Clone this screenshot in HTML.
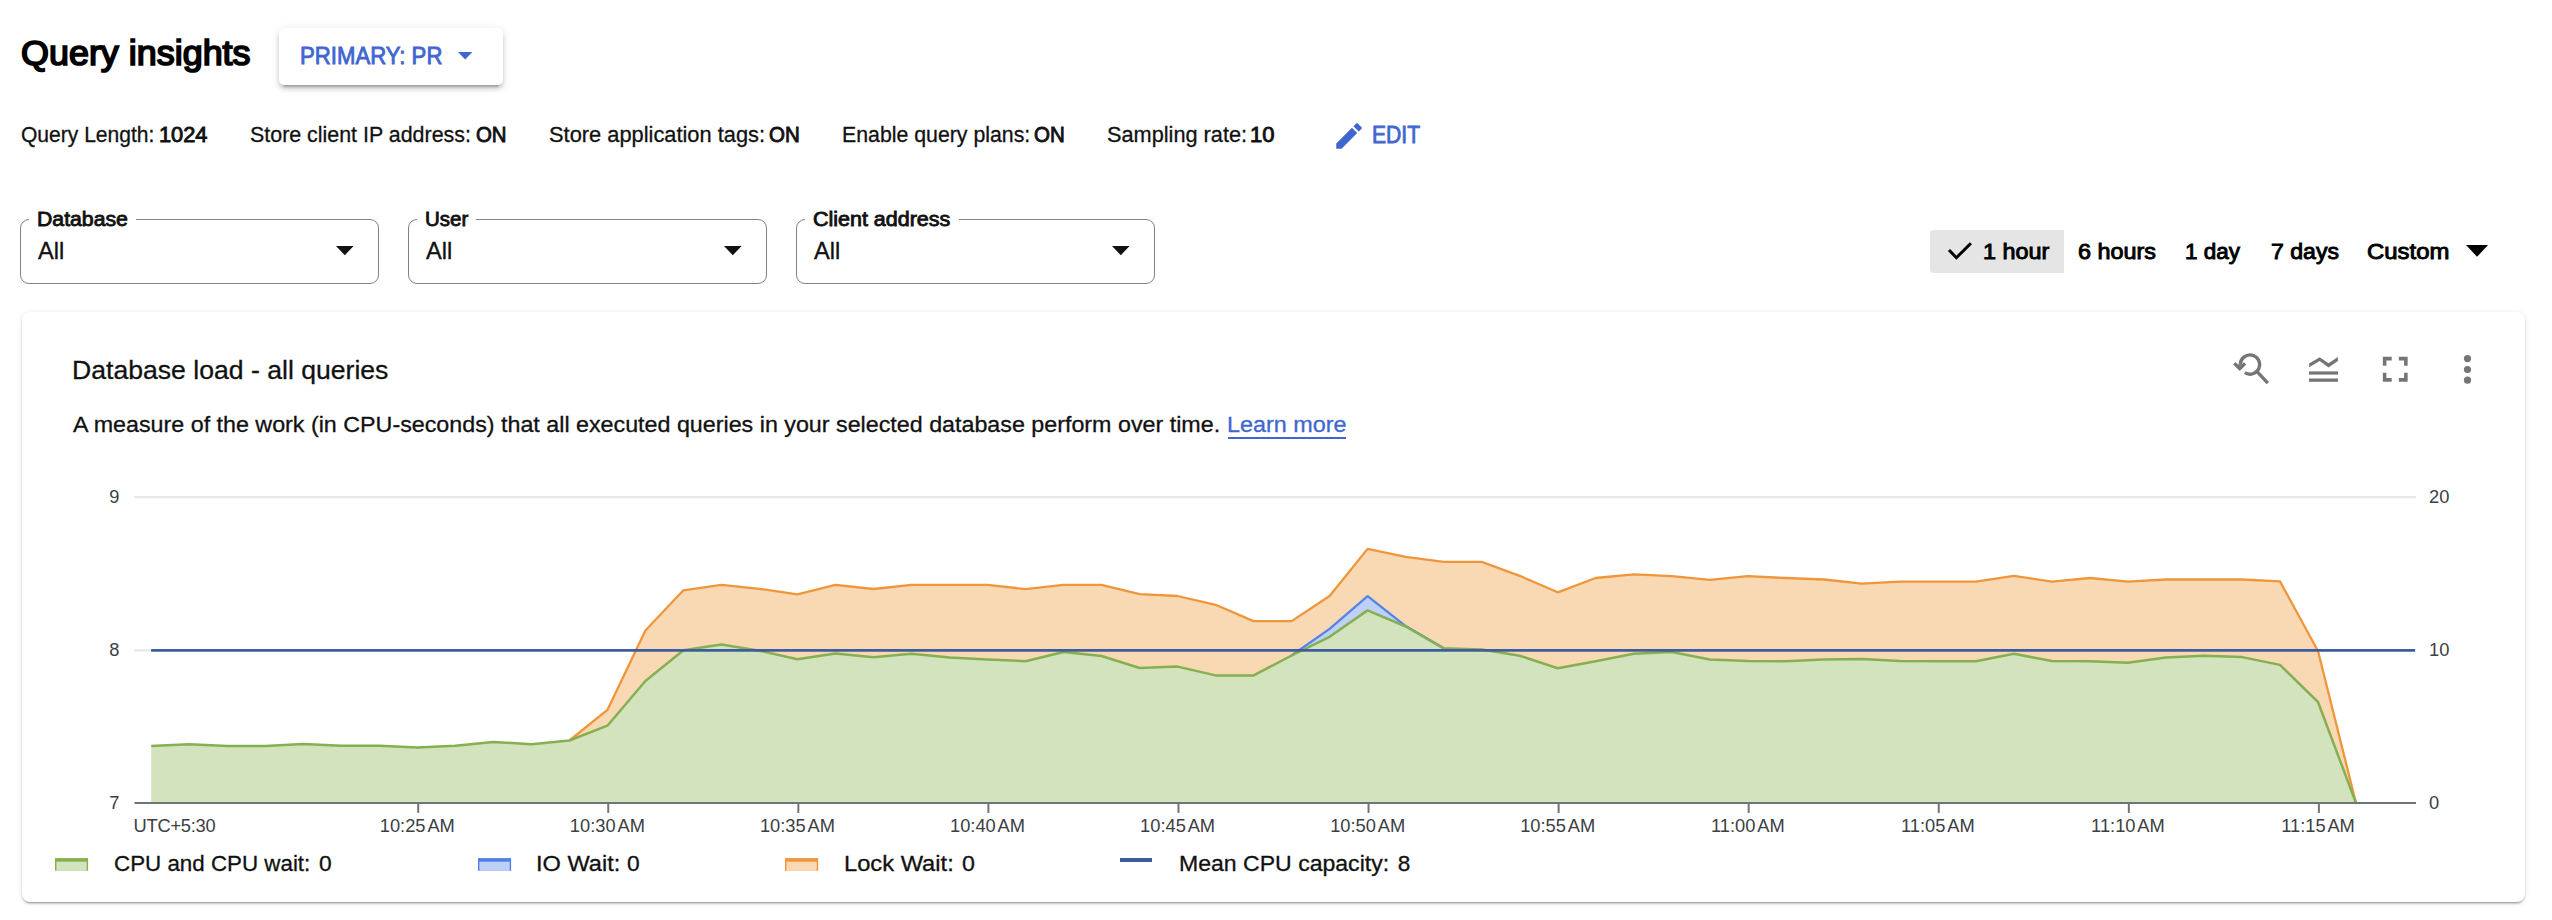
<!DOCTYPE html>
<html lang="en"><head><meta charset="utf-8"><title>Query insights</title>
<style>
html,body{margin:0;padding:0;background:#fff}
body{width:2552px;height:920px;position:relative;overflow:hidden;font-family:"Liberation Sans",sans-serif;color:#111}
.t{position:absolute;white-space:nowrap;transform-origin:0 0;line-height:1;margin:0;padding:0;font-weight:400;font-style:normal;display:block}
h1,h2{margin:0}
.btn{position:absolute;left:279px;top:28px;width:224px;height:57px;border-radius:5.5px;background:#fff;box-shadow:0 6px 2px -4px rgba(0,0,0,.2),0 4px 4px 0 rgba(0,0,0,.14),0 2px 10px 0 rgba(0,0,0,.12)}
.sel{position:absolute;top:219px;width:357px;height:63px;border:1px solid #7b8389;border-radius:9px;box-sizing:content-box}
.gap{position:absolute;top:216px;height:8px;background:#fff}
.seg{position:absolute;left:1930px;top:230px;width:134px;height:43px;background:#e5e5e5;border-radius:4px 0 0 4px}
.card{position:absolute;left:22px;top:312px;width:2503px;height:589.5px;border-radius:8px;background:#fff;box-shadow:0 3px 1px -2px rgba(0,0,0,.2),0 2px 2px 0 rgba(0,0,0,.14),0 1px 5px 0 rgba(0,0,0,.12)}
.ul{position:absolute;left:1228px;top:437.2px;width:118px;height:1.8px;background:#3f66d0}
svg.ic{position:absolute;overflow:visible}
</style></head>
<body>
<header>
<h1 class="t" style="left:20.91px;top:36px;font-size:34.4px;color:#000;transform:scaleX(1.0443);-webkit-text-stroke:1.72px #000;">Query insights</h1>
<div class="btn"></div>
<span class="t" style="left:300.47px;top:45px;font-size:23.09px;color:#3f66d0;transform:scaleX(0.9599);-webkit-text-stroke:0.83px #3f66d0;">PRIMARY: PR</span>
<svg class="ic" style="left:457.7px;top:51.9px" width="14.4" height="7.6" viewBox="0 0 14.4 7.6"><path d="M0 0H14.4L7.20 7.6Z" fill="#3f66d0"/></svg>
</header>
<div class="settings">
<span class="t" style="left:20.51px;top:124px;font-size:22.6px;color:#111111;transform:scaleX(0.9314);-webkit-text-stroke:0.3px #111111;">Query Length:</span>
<b class="t" style="left:158.52px;top:125px;font-size:21.3px;color:#111111;transform:scaleX(1.0232);-webkit-text-stroke:0.89px #111111;">1024</b>
<span class="t" style="left:249.99px;top:124px;font-size:22.6px;color:#111111;transform:scaleX(0.9473);-webkit-text-stroke:0.3px #111111;">Store client IP address:</span>
<b class="t" style="left:475.87px;top:125px;font-size:21.3px;color:#111111;transform:scaleX(0.9583);-webkit-text-stroke:0.89px #111111;">ON</b>
<span class="t" style="left:549.18px;top:124px;font-size:22.6px;color:#111111;transform:scaleX(0.9663);-webkit-text-stroke:0.3px #111111;">Store application tags:</span>
<b class="t" style="left:769.47px;top:125px;font-size:21.3px;color:#111111;transform:scaleX(0.9616);-webkit-text-stroke:0.89px #111111;">ON</b>
<span class="t" style="left:841.94px;top:124px;font-size:22.6px;color:#111111;transform:scaleX(0.9425);-webkit-text-stroke:0.3px #111111;">Enable query plans:</span>
<b class="t" style="left:1033.97px;top:125px;font-size:21.3px;color:#111111;transform:scaleX(0.9616);-webkit-text-stroke:0.89px #111111;">ON</b>
<span class="t" style="left:1107.18px;top:124px;font-size:22.6px;color:#111111;transform:scaleX(0.9613);-webkit-text-stroke:0.3px #111111;">Sampling rate:</span>
<b class="t" style="left:1250.31px;top:125px;font-size:21.3px;color:#111111;transform:scaleX(1.0344);-webkit-text-stroke:0.89px #111111;">10</b>
<svg class="ic" style="left:1332px;top:118.7px" width="34" height="34" viewBox="0 0 24 24"><path fill="#3f66d0" d="M3 17.25V21h3.75L17.81 9.94l-3.75-3.75L3 17.25zM20.71 7.04c.39-.39.39-1.02 0-1.41l-2.34-2.34c-.39-.39-1.02-.39-1.41 0l-1.83 1.83 3.75 3.75 1.83-1.83z"/></svg>
<span class="t" style="left:1371.66px;top:124px;font-size:23.28px;color:#3f66d0;transform:scaleX(0.9077);-webkit-text-stroke:0.84px #3f66d0;">EDIT</span>
</div>
<div class="filters">
<div class="sel" style="left:20px"></div>
<div class="gap" style="left:29px;width:106.5px"></div>
<label class="t" style="left:36.71px;top:210px;font-size:19.41px;color:#111111;transform:scaleX(1.0942);-webkit-text-stroke:0.82px #111111;">Database</label>
<span class="t" style="left:38.27px;top:239px;font-size:24.3px;color:#111111;transform:scaleX(0.9706);-webkit-text-stroke:0.35px #111111;">All</span>
<svg class="ic" style="left:335.5px;top:246.4px" width="17.6" height="9.3" viewBox="0 0 17.6 9.3"><path d="M0 0H17.6L8.80 9.3Z" fill="#111"/></svg>
<div class="sel" style="left:408px"></div>
<div class="gap" style="left:417px;width:59px"></div>
<label class="t" style="left:424.85px;top:210px;font-size:19.41px;color:#111111;transform:scaleX(1.0564);-webkit-text-stroke:0.82px #111111;">User</label>
<span class="t" style="left:426.27px;top:239px;font-size:24.3px;color:#111111;transform:scaleX(0.9706);-webkit-text-stroke:0.35px #111111;">All</span>
<svg class="ic" style="left:723.5px;top:246.4px" width="17.6" height="9.3" viewBox="0 0 17.6 9.3"><path d="M0 0H17.6L8.80 9.3Z" fill="#111"/></svg>
<div class="sel" style="left:796px"></div>
<div class="gap" style="left:805px;width:153.5px"></div>
<label class="t" style="left:813.26px;top:210px;font-size:19.41px;color:#111111;transform:scaleX(1.1063);-webkit-text-stroke:0.82px #111111;">Client address</label>
<span class="t" style="left:814.27px;top:239px;font-size:24.3px;color:#111111;transform:scaleX(0.9706);-webkit-text-stroke:0.35px #111111;">All</span>
<svg class="ic" style="left:1111.5px;top:246.4px" width="17.6" height="9.3" viewBox="0 0 17.6 9.3"><path d="M0 0H17.6L8.80 9.3Z" fill="#111"/></svg>
<div class="seg"></div>
<svg class="ic" style="left:1944px;top:236px" width="32" height="32" viewBox="0 0 32 32"><path d="M5 14 L12.4 21.7 L26.9 7.2" fill="none" stroke="#000" stroke-width="3"/></svg>
<span class="t" style="left:1982.74px;top:242px;font-size:21.39px;color:#000;transform:scaleX(1.0935);-webkit-text-stroke:0.9px #000;">1 hour</span>
<span class="t" style="left:2078.00px;top:242px;font-size:21.39px;color:#000;transform:scaleX(1.0943);-webkit-text-stroke:0.9px #000;">6 hours</span>
<span class="t" style="left:2185.49px;top:242px;font-size:21.39px;color:#000;transform:scaleX(1.0517);-webkit-text-stroke:0.9px #000;">1 day</span>
<span class="t" style="left:2270.61px;top:242px;font-size:21.39px;color:#000;transform:scaleX(1.0800);-webkit-text-stroke:0.9px #000;">7 days</span>
<span class="t" style="left:2367.09px;top:242px;font-size:21.39px;color:#000;transform:scaleX(1.1180);-webkit-text-stroke:0.9px #000;">Custom</span>
<svg class="ic" style="left:2465.5px;top:245.1px" width="22.1" height="11.8" viewBox="0 0 22.1 11.8"><path d="M0 0H22.1L11.05 11.8Z" fill="#000"/></svg>
</div>
<section class="card"></section>
<h2 class="t" style="left:71.97px;top:357px;font-size:26.6px;color:#111111;transform:scaleX(1.0002);-webkit-text-stroke:0.3px #111111;">Database load - all queries</h2>
<span class="t" style="left:73.35px;top:414px;font-size:22.6px;color:#111111;transform:scaleX(1.0298);-webkit-text-stroke:0.3px #111111;">A measure of the work (in CPU-seconds) that all executed queries in your selected database perform over time.</span>
<a href="#" class="t" style="left:1226.79px;top:414px;font-size:22.6px;color:#3f66d0;transform:scaleX(1.0353);-webkit-text-stroke:0.3px #3f66d0;text-decoration:none;">Learn more</a>
<div class="ul"></div>
<svg class="ic" style="left:2226px;top:346px" width="48" height="48" viewBox="0 0 48 48">
<path d="M14.35 18.55 A9.65 9.65 0 1 1 18.85 26.7" fill="none" stroke="#757575" stroke-width="3.3"/>
<path d="M8.3 17.3 L13.75 22.6 L19.1 17.3" fill="none" stroke="#757575" stroke-width="3.3" stroke-linejoin="miter"/>
<path d="M11.6 18.3 L16 18.3 L13.75 21 Z" fill="#757575"/>
<path d="M30.6 25.2 L41.8 37.1" fill="none" stroke="#757575" stroke-width="3.4"/></svg>
<svg class="ic" style="left:2309px;top:355px" width="30" height="30" viewBox="0 0 30 30">
<path d="M0.1 8.6 L10.7 2.3 L19.5 8.2 L28.9 2.0 L28.9 6.1 L19.5 12.6 L10.7 6.0 L0.1 12.2 Z" fill="#757575"/>
<rect x="0" y="16.4" width="29" height="3.2" fill="#757575"/><rect x="0" y="23.5" width="29" height="3.3" fill="#757575"/></svg>
<svg class="ic" style="left:2374px;top:348px" width="42.5" height="42.5" viewBox="0 0 24 24"><path fill="#757575" d="M7 14H5v5h5v-2H7v-3zm-2-4h2V7h3V5H5v5zm12 7h-3v2h5v-5h-2v3zM14 5v2h3v3h2V5h-5z"/></svg>
<svg class="ic" style="left:2460px;top:352px" width="16" height="36" viewBox="0 0 16 36"><circle cx="7.5" cy="6.6" r="3.6" fill="#757575"/><circle cx="7.5" cy="17.5" r="3.6" fill="#757575"/><circle cx="7.5" cy="28.2" r="3.6" fill="#757575"/></svg>
<svg class="chart" width="2500" height="400" viewBox="0 0 2500 400" style="position:absolute;left:0;top:460px;overflow:visible">
<line x1="134.2" x2="2416" y1="37.1" y2="37.1" stroke="#e8e8e8" stroke-width="2.2"/>
<line x1="134.2" x2="2416" y1="190.3" y2="190.3" stroke="#e8e8e8" stroke-width="2.2"/>
<polygon fill="#f9d8b4" points="569.4,280.5 607.4,249.9 645.4,170.5 683.4,130.3 721.4,124.9 759.4,128.8 797.4,134.3 835.5,124.9 873.5,129.0 911.5,124.9 949.5,124.9 987.5,124.9 1025.5,129.1 1063.5,124.9 1101.5,124.9 1139.6,134.1 1177.6,136.0 1215.6,144.8 1253.6,161.1 1291.6,161.1 1329.6,136.0 1367.6,88.9 1405.7,96.8 1443.7,101.8 1481.7,101.8 1519.7,115.8 1557.7,132.3 1595.7,118.0 1633.7,114.4 1671.8,116.2 1709.8,119.9 1747.8,116.2 1785.8,118.0 1823.8,119.5 1861.8,123.6 1899.8,121.7 1937.9,121.7 1975.9,121.7 2013.9,115.8 2051.9,121.7 2089.9,118.0 2127.9,121.7 2165.9,119.5 2204.0,119.5 2242.0,119.5 2280.0,121.4 2318.0,191.0 2356.0,343.0 2356.0,343.0 2318.0,242.0 2280.0,204.9 2242.0,197.1 2204.0,195.7 2165.9,197.5 2127.9,202.7 2089.9,201.2 2051.9,201.0 2013.9,193.8 1975.9,201.2 1937.9,201.2 1899.8,201.0 1861.8,199.0 1823.8,199.4 1785.8,201.2 1747.8,201.0 1709.8,199.4 1671.8,192.0 1633.7,193.8 1595.7,201.2 1557.7,208.2 1519.7,195.7 1481.7,189.6 1443.7,188.3 1405.7,166.1 1367.6,136.2 1329.6,168.9 1291.6,195.5 1253.6,215.4 1215.6,215.4 1177.6,206.6 1139.6,208.0 1101.5,196.0 1063.5,192.0 1025.5,201.2 987.5,199.4 949.5,197.5 911.5,193.8 873.5,197.3 835.5,193.5 797.4,199.2 759.4,190.7 721.4,184.4 683.4,190.3 645.4,221.0 607.4,265.7 569.4,280.5"/>
<polygon fill="#bfd0f6" points="1291.6,195.5 1329.6,168.9 1367.6,136.2 1405.7,166.1 1443.7,188.3 1443.7,188.3 1405.7,166.5 1367.6,150.4 1329.6,176.8 1291.6,195.5"/>
<polygon fill="#d3e3be" points="151.2,286.1 189.2,284.2 227.2,286.0 265.2,286.0 303.3,283.9 341.3,285.7 379.3,285.7 417.3,287.5 455.3,285.7 493.3,282.0 531.3,284.2 569.4,280.5 607.4,265.7 645.4,221.0 683.4,190.3 721.4,184.4 759.4,190.7 797.4,199.2 835.5,193.5 873.5,197.3 911.5,193.8 949.5,197.5 987.5,199.4 1025.5,201.2 1063.5,192.0 1101.5,196.0 1139.6,208.0 1177.6,206.6 1215.6,215.4 1253.6,215.4 1291.6,195.5 1329.6,176.8 1367.6,150.4 1405.7,166.5 1443.7,188.3 1481.7,189.6 1519.7,195.7 1557.7,208.2 1595.7,201.2 1633.7,193.8 1671.8,192.0 1709.8,199.4 1747.8,201.0 1785.8,201.2 1823.8,199.4 1861.8,199.0 1899.8,201.0 1937.9,201.2 1975.9,201.2 2013.9,193.8 2051.9,201.0 2089.9,201.2 2127.9,202.7 2165.9,197.5 2204.0,195.7 2242.0,197.1 2280.0,204.9 2318.0,242.0 2356.0,343.0 2356.0,343.0 151.2,343.0"/>
<polyline fill="none" stroke="#f0963a" stroke-width="2.3" stroke-linejoin="round" points="569.4,280.5 607.4,249.9 645.4,170.5 683.4,130.3 721.4,124.9 759.4,128.8 797.4,134.3 835.5,124.9 873.5,129.0 911.5,124.9 949.5,124.9 987.5,124.9 1025.5,129.1 1063.5,124.9 1101.5,124.9 1139.6,134.1 1177.6,136.0 1215.6,144.8 1253.6,161.1 1291.6,161.1 1329.6,136.0 1367.6,88.9 1405.7,96.8 1443.7,101.8 1481.7,101.8 1519.7,115.8 1557.7,132.3 1595.7,118.0 1633.7,114.4 1671.8,116.2 1709.8,119.9 1747.8,116.2 1785.8,118.0 1823.8,119.5 1861.8,123.6 1899.8,121.7 1937.9,121.7 1975.9,121.7 2013.9,115.8 2051.9,121.7 2089.9,118.0 2127.9,121.7 2165.9,119.5 2204.0,119.5 2242.0,119.5 2280.0,121.4 2318.0,191.0 2356.0,343.0"/>
<polyline fill="none" stroke="#5383ea" stroke-width="2.3" stroke-linejoin="round" points="1291.6,195.5 1329.6,168.9 1367.6,136.2 1405.7,166.1 1443.7,188.3"/>
<polyline fill="none" stroke="#84b051" stroke-width="2.5" stroke-linejoin="round" points="151.2,286.1 189.2,284.2 227.2,286.0 265.2,286.0 303.3,283.9 341.3,285.7 379.3,285.7 417.3,287.5 455.3,285.7 493.3,282.0 531.3,284.2 569.4,280.5 607.4,265.7 645.4,221.0 683.4,190.3 721.4,184.4 759.4,190.7 797.4,199.2 835.5,193.5 873.5,197.3 911.5,193.8 949.5,197.5 987.5,199.4 1025.5,201.2 1063.5,192.0 1101.5,196.0 1139.6,208.0 1177.6,206.6 1215.6,215.4 1253.6,215.4 1291.6,195.5 1329.6,176.8 1367.6,150.4 1405.7,166.5 1443.7,188.3 1481.7,189.6 1519.7,195.7 1557.7,208.2 1595.7,201.2 1633.7,193.8 1671.8,192.0 1709.8,199.4 1747.8,201.0 1785.8,201.2 1823.8,199.4 1861.8,199.0 1899.8,201.0 1937.9,201.2 1975.9,201.2 2013.9,193.8 2051.9,201.0 2089.9,201.2 2127.9,202.7 2165.9,197.5 2204.0,195.7 2242.0,197.1 2280.0,204.9 2318.0,242.0 2356.0,343.0"/>
<line x1="151.1" x2="2415" y1="190.3" y2="190.3" stroke="#3f5c9c" stroke-width="2.8"/>
<line x1="134.5" x2="2416" y1="343" y2="343" stroke="#6f7479" stroke-width="2"/>
<line x1="418.20" x2="418.20" y1="343" y2="352.9" stroke="#6f7479" stroke-width="2"/>
<line x1="608.27" x2="608.27" y1="343" y2="352.9" stroke="#6f7479" stroke-width="2"/>
<line x1="798.34" x2="798.34" y1="343" y2="352.9" stroke="#6f7479" stroke-width="2"/>
<line x1="988.41" x2="988.41" y1="343" y2="352.9" stroke="#6f7479" stroke-width="2"/>
<line x1="1178.48" x2="1178.48" y1="343" y2="352.9" stroke="#6f7479" stroke-width="2"/>
<line x1="1368.55" x2="1368.55" y1="343" y2="352.9" stroke="#6f7479" stroke-width="2"/>
<line x1="1558.62" x2="1558.62" y1="343" y2="352.9" stroke="#6f7479" stroke-width="2"/>
<line x1="1748.69" x2="1748.69" y1="343" y2="352.9" stroke="#6f7479" stroke-width="2"/>
<line x1="1938.76" x2="1938.76" y1="343" y2="352.9" stroke="#6f7479" stroke-width="2"/>
<line x1="2128.83" x2="2128.83" y1="343" y2="352.9" stroke="#6f7479" stroke-width="2"/>
<line x1="2318.90" x2="2318.90" y1="343" y2="352.9" stroke="#6f7479" stroke-width="2"/>
<text font-family="Liberation Sans, sans-serif" font-size="18.3" fill="#3c4043" x="133.6" y="371.8" letter-spacing="-0.25">UTC+5:30</text>
<text font-family="Liberation Sans, sans-serif" font-size="18.3" fill="#3c4043" x="417.30" y="371.8" text-anchor="middle" word-spacing="-2.2">10:25 AM</text>
<text font-family="Liberation Sans, sans-serif" font-size="18.3" fill="#3c4043" x="607.37" y="371.8" text-anchor="middle" word-spacing="-2.2">10:30 AM</text>
<text font-family="Liberation Sans, sans-serif" font-size="18.3" fill="#3c4043" x="797.44" y="371.8" text-anchor="middle" word-spacing="-2.2">10:35 AM</text>
<text font-family="Liberation Sans, sans-serif" font-size="18.3" fill="#3c4043" x="987.51" y="371.8" text-anchor="middle" word-spacing="-2.2">10:40 AM</text>
<text font-family="Liberation Sans, sans-serif" font-size="18.3" fill="#3c4043" x="1177.58" y="371.8" text-anchor="middle" word-spacing="-2.2">10:45 AM</text>
<text font-family="Liberation Sans, sans-serif" font-size="18.3" fill="#3c4043" x="1367.65" y="371.8" text-anchor="middle" word-spacing="-2.2">10:50 AM</text>
<text font-family="Liberation Sans, sans-serif" font-size="18.3" fill="#3c4043" x="1557.72" y="371.8" text-anchor="middle" word-spacing="-2.2">10:55 AM</text>
<text font-family="Liberation Sans, sans-serif" font-size="18.3" fill="#3c4043" x="1747.79" y="371.8" text-anchor="middle" word-spacing="-2.2">11:00 AM</text>
<text font-family="Liberation Sans, sans-serif" font-size="18.3" fill="#3c4043" x="1937.86" y="371.8" text-anchor="middle" word-spacing="-2.2">11:05 AM</text>
<text font-family="Liberation Sans, sans-serif" font-size="18.3" fill="#3c4043" x="2127.93" y="371.8" text-anchor="middle" word-spacing="-2.2">11:10 AM</text>
<text font-family="Liberation Sans, sans-serif" font-size="18.3" fill="#3c4043" x="2318.00" y="371.8" text-anchor="middle" word-spacing="-2.2">11:15 AM</text>
<text font-family="Liberation Sans, sans-serif" font-size="18.3" fill="#3c4043" x="119.4" y="42.9" text-anchor="end">9</text>
<text font-family="Liberation Sans, sans-serif" font-size="18.3" fill="#3c4043" x="119.4" y="195.9" text-anchor="end">8</text>
<text font-family="Liberation Sans, sans-serif" font-size="18.3" fill="#3c4043" x="119.4" y="348.9" text-anchor="end">7</text>
<text font-family="Liberation Sans, sans-serif" font-size="18.3" fill="#3c4043" x="2429" y="42.9">20</text>
<text font-family="Liberation Sans, sans-serif" font-size="18.3" fill="#3c4043" x="2429" y="195.9">10</text>
<text font-family="Liberation Sans, sans-serif" font-size="18.3" fill="#3c4043" x="2429" y="348.9">0</text>
</svg>
<div class="legend">
<svg class="ic" style="left:54.9px;top:858px" width="34" height="13" viewBox="0 0 34 13"><rect x="0" y="0.1" width="33.1" height="12.7" fill="#86b04f"/><rect x="1.4" y="3.7" width="30.3" height="9.2" fill="#d3e3be"/></svg>
<span class="t" style="left:114.16px;top:853px;font-size:22.6px;color:#111111;transform:scaleX(0.9894);-webkit-text-stroke:0.3px #111111;">CPU and CPU wait:</span>
<span class="t" style="left:319.44px;top:853px;font-size:22.6px;color:#111111;transform:scaleX(1.0089);-webkit-text-stroke:0.3px #111111;">0</span>
<svg class="ic" style="left:477.6px;top:858px" width="34" height="13" viewBox="0 0 34 13"><rect x="0" y="0.1" width="33.1" height="12.7" fill="#4f7fe8"/><rect x="1.4" y="3.7" width="30.3" height="9.2" fill="#bfd0f6"/></svg>
<span class="t" style="left:535.57px;top:853px;font-size:22.6px;color:#111111;transform:scaleX(1.0441);-webkit-text-stroke:0.3px #111111;">IO Wait:</span>
<span class="t" style="left:626.84px;top:853px;font-size:22.6px;color:#111111;transform:scaleX(1.0089);-webkit-text-stroke:0.3px #111111;">0</span>
<svg class="ic" style="left:784.8px;top:858px" width="34" height="13" viewBox="0 0 34 13"><rect x="0" y="0.1" width="33.1" height="12.7" fill="#f0963a"/><rect x="1.4" y="3.7" width="30.3" height="9.2" fill="#f9d8b4"/></svg>
<span class="t" style="left:844.17px;top:853px;font-size:22.6px;color:#111111;transform:scaleX(1.0486);-webkit-text-stroke:0.3px #111111;">Lock Wait:</span>
<span class="t" style="left:961.73px;top:853px;font-size:22.6px;color:#111111;transform:scaleX(1.0268);-webkit-text-stroke:0.3px #111111;">0</span>
<i style="position:absolute;left:1120px;top:858px;width:32.2px;height:3.8px;background:#3f5c9c;display:block"></i>
<span class="t" style="left:1179.32px;top:853px;font-size:22.6px;color:#111111;transform:scaleX(1.0202);-webkit-text-stroke:0.3px #111111;">Mean CPU capacity:</span>
<span class="t" style="left:1397.75px;top:853px;font-size:22.6px;color:#111111;transform:scaleX(1.0000);-webkit-text-stroke:0.3px #111111;">8</span>
</div>
</body></html>
